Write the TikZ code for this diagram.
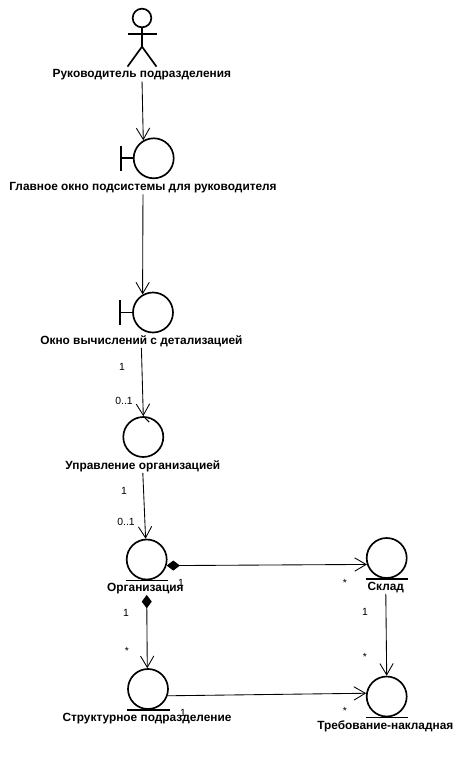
\documentclass[tikz,border=0pt]{standalone}
\usepackage{fontspec}
\setmainfont{Liberation Sans}
\usetikzlibrary{arrows.meta,shapes.geometric}
\tikzset{obj/.style={draw,circle,minimum size=30pt,inner sep=0pt,line width=1.25pt},
  ico/.style={line width=1.25pt},
  lbl/.style={inner sep=0pt,minimum height=9pt,font=\fontsize{8.9pt}{9pt}\selectfont\bfseries},
  mult/.style={inner sep=0pt,font=\fontsize{7.8pt}{9pt}\selectfont},
  arr/.style={-{Straight Barb[length=8.5pt,width=10pt,line width=0.65pt]},line width=0.65pt},
  comp/.style={arr,{Diamond[length=10pt,width=7.5pt]}-{Straight Barb[length=8.5pt,width=10pt,line width=0.65pt]}}}
\begin{document}
\begin{tikzpicture}[x=0.75pt,y=-0.75pt]
\useasboundingbox (0,0) rectangle (465,761);
\node[obj,minimum size=14pt] (hd) at (142,18){};
\draw[ico] (hd.south)--++(0,18.5) coordinate (hp)--++(-14.5,20); \draw[ico] (hp)--++(14.5,20);
\draw[ico] (128,34)--(157,34);
\node[obj] (w1) at (153.7,158.3){}; \node[obj] (w2) at (153,312.5){};
\node[obj] (ctl) at (143.3,437){};
\node[obj] (org) at (146.7,559.5){}; \node[obj] (skl) at (386.7,558){};
\node[obj] (str) at (148,689){}; \node[obj] (treb) at (386.7,696.5){};
\foreach \n in {w1,w2} \draw[ico] (\n.west)--++(-12,0) ++(0,-12.5)--++(0,25);
\foreach \n in {org,skl,str,treb} \draw[ico] (\n.south)++(-21,0)--++(42.5,0);
\draw[ico,line width=0.9pt] (ctl.north)--++(6,6);
\node[lbl] (lac) at (141.9,75){Руководитель подразделения};
\node[lbl] (lw1) at (143,188){Главное окно подсистемы для руководителя};
\node[lbl] (lw2) at (141.4,341.7){Окно вычислений с детализацией};
\node[lbl] (lctl) at (142.8,466.5){Управление организацией};
\node[lbl] (lorg) at (145.4,588.7){Организация};
\node[lbl] (lskl) at (385.8,587.7){Склад};
\node[lbl] (lstr) at (147,718.7){Структурное подразделение};
\node[lbl] (ltreb) at (385.3,726.7){Требование-накладная};
\draw[arr] (lac)--(w1.120); \draw[arr] (lw1)--(w2.120);
\draw[arr] (lw2.south)--(ctl.north); \draw[arr] (lctl.south)--(org.93);
\draw[comp] (org.343)--(skl.198); \draw[comp] (org|-lorg.south)--(str.92);
\draw[arr] (lskl.south)--(treb.north); \draw[arr] (str.341)--(treb.171);
\node[mult] (m1) at (122,367){1}; \node[mult] (m2) at (124,401){0..1};
\node[mult] (m3) at (124,491){1}; \node[mult] (m4) at (126,522){0..1};
\node[mult] (m5) at (181,583){1}; \node[mult] (m6) at (345,583){*};
\node[mult] (m7) at (126,613){1}; \node[mult] (m8) at (127,651){*};
\node[mult] (m9) at (183,713){1}; \node[mult] (m10) at (345,711){*};
\node[mult] (m11) at (365,612){1}; \node[mult] (m12) at (365,657){*};
\end{tikzpicture}
\end{document}
